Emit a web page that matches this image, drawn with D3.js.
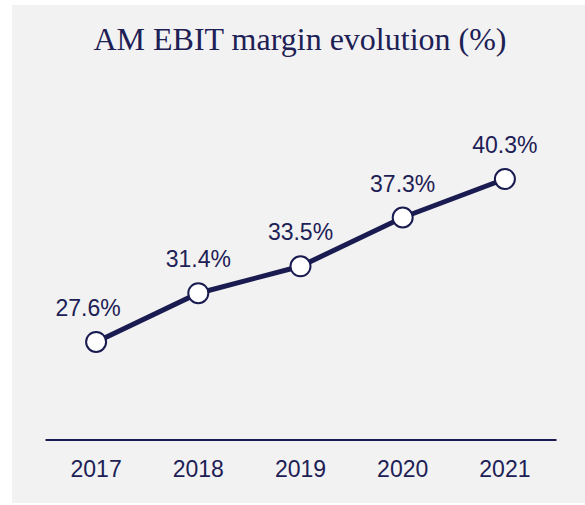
<!DOCTYPE html>
<html lang="en">
<head>
<meta charset="UTF-8">
<title>AM EBIT margin evolution</title>
<script src="https://d3js.org/d3.v7.min.js"></script>
<style>
  body { margin: 0; background: #fff; }
  text { font-family: "Liberation Sans", Arial, sans-serif; fill: #1d2055; }
</style>
</head>
<body>
<div id="chart"></div>
<script>
// chart data
var years = ["2017", "2018", "2019", "2020", "2021"];
var margins = [27.6, 31.4, 33.5, 37.3, 40.3];
var labels = ["27.6%", "31.4%", "33.5%", "37.3%", "40.3%"];

var width = 585,
    height = 505,
    navy = "#1a1b50";

var svg = d3.select("#chart").append("svg")
    .attr("width", width)
    .attr("height", height);

// grey panel
svg.append("rect")
    .attr("x", 12).attr("y", 5)
    .attr("width", width - 12).attr("height", 498)
    .attr("fill", "#f2f2f2");

svg.append("text")
    .attr("x", 300).attr("y", 50)
    .attr("text-anchor", "middle")
    .style("font-family", "'Liberation Serif', 'DejaVu Serif', serif")
    .style("font-size", "32px")
    .text("AM EBIT margin evolution (%)");

var x = d3.scaleBand()
    .domain(years)
    .range([45, 556]);

var y = d3.scaleLinear()
    .domain([20, 45])
    .range([439.5, 118.7]);

// baseline axis
var axis = svg.append("g")
    .attr("transform", "translate(0," + y(20) + ")")
    .call(d3.axisBottom(x).tickSize(0).tickPadding(21));
axis.select(".domain").attr("stroke", navy).attr("stroke-width", 2);
axis.selectAll("text")
    .style("font-size", "23px")
    .attr("fill", navy);

var pts = years.map(function(d, i) { return [x(d) + x.bandwidth() / 2, y(margins[i])]; });

svg.append("path")
    .datum(pts)
    .attr("fill", "none")
    .attr("stroke", navy)
    .attr("stroke-width", 5)
    .attr("d", d3.line());

svg.selectAll("circle.pt")
    .data(pts)
    .join("circle")
    .attr("class", "pt")
    .attr("cx", function(d) { return d[0]; })
    .attr("cy", function(d) { return d[1]; })
    .attr("r", 10)
    .attr("fill", "#fff")
    .attr("stroke", navy)
    .attr("stroke-width", 2);

svg.selectAll("text.lbl")
    .data(pts)
    .join("text")
    .attr("class", "lbl")
    .attr("x", function(d, i) { return d[0] - (i === 0 ? 8 : 0); })
    .attr("y", function(d) { return d[1] - 26; })
    .attr("text-anchor", "middle")
    .style("font-size", "23px")
    .text(function(d, i) { return labels[i]; });
</script>
</body>
</html>
